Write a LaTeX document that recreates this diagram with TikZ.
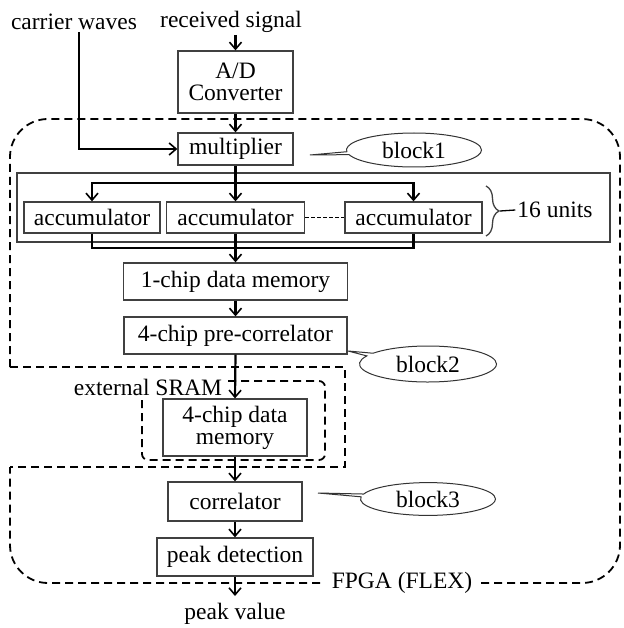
\documentclass[tikz,border=0pt]{standalone}
\usepackage{fontspec}
\setmainfont{Liberation Serif}
\usetikzlibrary{arrows.meta,shapes.callouts,decorations.pathreplacing}
\begin{document}
\begin{tikzpicture}[x=1pt,y=-1pt,
  font=\fontsize{23.5}{25}\selectfont,
  box/.style={draw=black!75,line width=1.3pt,inner sep=0pt,align=center},
  arr/.style={line width=2.2pt,-{Straight Barb[length=7pt,width=12pt,line width=1.6pt]}},
  wire/.style={line width=2.2pt},
  dsh/.style={line width=1.8pt,dash pattern=on 8pt off 5pt},
  txt/.style={inner sep=2pt},
  bubble/.style={ellipse callout,draw=black!80,line width=1pt,minimum width=135pt,minimum height=34pt,callout pointer arc=10}
]
\useasboundingbox (0,0) rectangle (623,628);

% texts at top
\node[txt] (cw) at (74,22) {carrier waves};
\node[txt] (rs) at (231,22) {received signal};

% main boxes
\node[box,minimum width=115pt,minimum height=62pt] (ad) at (235.5,82) {A/D\\[-3pt]Converter};
\node[box,minimum width=115pt,minimum height=32pt] (mul) at (235.5,149) {multiplier};
\node[box,minimum width=593pt,minimum height=69pt] (cont) at (313.5,207.5) {};
\node[box,minimum width=136pt,minimum height=31pt] (acc1) at (92,217.5) {accumulator};
\node[box,minimum width=138pt,minimum height=31pt] (acc2) at (235.5,217.5) {accumulator};
\node[box,minimum width=137pt,minimum height=31pt] (acc3) at (413.5,217.5) {accumulator};
\node[box,minimum width=224pt,minimum height=37pt] (mem1) at (235.5,281.5) {1-chip data memory};
\node[box,minimum width=223pt,minimum height=37pt] (pre) at (235.5,335.5) {4-chip pre-correlator};
\node[box,minimum width=144pt,minimum height=57pt] (mem4) at (235,427.5) {4-chip data\\[-3pt]memory};
\node[box,minimum width=134pt,minimum height=39pt] (corr) at (235,501.5) {correlator};
\node[box,minimum width=156pt,minimum height=38pt] (peak) at (235,557) {peak detection};
\node[txt] (pv) at (235,614) {peak value};

% dashed FPGA outline
\draw[dsh,rounded corners=38pt] (10,367) -- (10,119) -- (620,119) -- (620,583) -- (10,583) -- (10,467);
\draw[dsh] (10,367) -- (345,367) -- (345,467) -- (10,467);
\node[fill=white,inner xsep=9pt,inner ysep=2pt] (fpga) at (402,583) {FPGA (FLEX)};

% external SRAM
\draw[dsh,rounded corners=6pt] (142,381) rectangle (325,460);
\node[fill=white,inner sep=3pt] (sram) at (148,387) {external SRAM};

% connectors
\draw[arr] (rs.south -| ad.north) -- (ad.north);
\draw[arr] (ad.south) -- (mul.north);
\draw[arr] ([xshift=5pt]cw.south) |- (mul.west);
\coordinate (split) at (235.5,183);
\draw[arr] (mul.south) -- (acc2.north);
\draw[arr] (split) -| (acc1.north);
\draw[arr] (split) -| (acc3.north);
\coordinate (join) at (235.5,248);
\draw[wire] (acc1.south) |- (join) -| (acc3.south);
\draw[arr] (acc2.south) -- (mem1.north);
\draw[arr] (mem1.south) -- (pre.north);
\draw[arr] (pre.south) -- (mem4.north);
\draw[arr] (mem4.south) -- (corr.north);
\draw[arr] (corr.south) -- (peak.north);
\coordinate (pvend) at (235,596);
\draw[arr] (peak.south) -- (pvend);

% dashed link between accumulators
\draw[line width=1.4pt,dash pattern=on 4pt off 2pt] (acc2.east) -- (acc3.east -| acc3.west);

% brace and 16 units
\draw[draw=black!75,line width=1.3pt,decorate,decoration={brace,amplitude=13pt}] (486,186) -- (486,236);
\node[txt] (units) at (555,210) {16 units};
\draw[line width=1.3pt] (500,211) -- (units.west);

% callouts
\node[bubble,callout absolute pointer={(310,155)}] (b1) at (414,150) {block1};
\node[bubble,minimum width=137pt,minimum height=36pt,callout absolute pointer={(348,351)}] (b2) at (428,364) {block2};
\node[bubble,minimum height=32pt,callout absolute pointer={(318,493)}] (b3) at (428,499) {block3};
\end{tikzpicture}
\end{document}
